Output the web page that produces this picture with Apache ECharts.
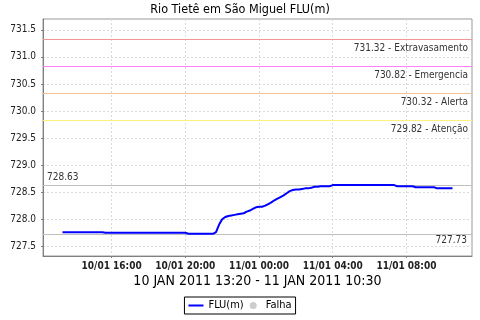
<!DOCTYPE html>
<html><head><meta charset="utf-8">
<script src="https://cdn.jsdelivr.net/npm/echarts@6/dist/echarts.min.js"></script>
<style>html,body{margin:0;padding:0;background:#fff}#c{width:480px;height:320px}</style>
</head><body><div id="c"></div>
<script>
const titleText = 'Rio Tietê em São Miguel FLU(m)';
const subtitleText = '10 JAN 2011 13:20 - 11 JAN 2011 10:30';
const seriesName = 'FLU(m)';
const failName = 'Falha';
const startTime = '2011-01-10T13:20:00Z';
const stepMinutes = 10;
const fluValues = [
  727.76,727.76,727.76,727.76,727.76,727.76,727.76,727.76,727.76,727.76,727.76,727.76,727.76,727.76,
  727.75,727.75,727.75,727.75,727.75,727.75,727.75,727.75,727.75,727.75,727.75,727.75,727.75,727.75,
  727.75,727.75,727.75,727.75,727.75,727.75,727.75,727.75,727.75,727.75,727.75,727.75,727.75,
  727.73,727.73,727.73,727.73,727.73,727.73,727.73,727.73,727.73,
  727.76,727.90,728.00,728.04,728.06,728.07,728.08,728.09,728.10,728.11,
  728.14,728.16,728.19,728.22,728.23,728.23,728.25,728.28,728.31,728.35,
  728.38,728.41,728.44,728.48,728.52,728.54,728.55,728.55,728.56,728.57,
  728.57,728.58,728.60,728.60,728.61,728.61,728.61,728.61,
  728.63,728.63,728.63,728.63,728.63,728.63,728.63,728.63,728.63,728.63,728.63,
  728.63,728.63,728.63,728.63,728.63,728.63,728.63,728.63,728.63,728.63,
  728.61,728.61,728.61,728.61,728.61,728.61,
  728.59,728.59,728.59,728.59,728.59,728.59,728.59,
  728.57,728.57,728.57,728.57,728.57,728.57
];
const xAxisMin = '2011-01-10T12:16:30Z';
const xAxisMax = '2011-01-11T11:33:30Z';
const xTickValues = ['2011-01-10T16:00:00Z','2011-01-10T20:00:00Z','2011-01-11T00:00:00Z','2011-01-11T04:00:00Z','2011-01-11T08:00:00Z'];
const yAxisMin = 727.32;
const yAxisMax = 731.70;
const yTickValues = [727.5,728.0,728.5,729.0,729.5,730.0,730.5,731.0,731.5];
const thresholdValues = [731.32, 730.82, 730.32, 729.82];
const thresholdNames = ['Extravasamento','Emergencia','Alerta','Atenção'];
const dataMaxValue = 728.63;
const dataMinValue = 727.73;

const FONT = "'DejaVu Sans Condensed', 'Liberation Sans', sans-serif";
const thresholdColors = ['#f09898', '#ff80ff', '#f5c294', '#fff07a'];
const t0 = Date.parse(startTime);
const seriesData = fluValues.map((v, i) => [t0 + i * stepMinutes * 60000, v]);
const xTicks = xTickValues.map(s => Date.parse(s));
const pad = n => (n < 10 ? '0' : '') + n;
const fmtTime = v => { const d = new Date(v); return pad(d.getUTCDate()) + '/' + pad(d.getUTCMonth() + 1) + ' ' + pad(d.getUTCHours()) + ':' + pad(d.getUTCMinutes()); };

const markData = thresholdValues.map((v, i) => ({
  yAxis: v,
  lineStyle: { color: thresholdColors[i], type: 'solid', width: 1, opacity: 1 },
  label: { show: true, position: 'insideEndBottom', formatter: v.toFixed(2) + ' - ' + thresholdNames[i], color: '#333', fontSize: 10, fontFamily: FONT, distance: [4, 4] }
}));
markData.push({
  yAxis: dataMaxValue,
  lineStyle: { color: '#c0c0c0', type: 'solid', width: 1, opacity: 1 },
  label: { show: true, position: 'insideStartTop', formatter: dataMaxValue.toFixed(2), color: '#333', fontSize: 10, fontFamily: FONT, distance: [4, 3] }
});
markData.push({
  yAxis: dataMinValue,
  lineStyle: { color: '#c0c0c0', type: 'solid', width: 1, opacity: 1 },
  label: { show: true, position: 'insideEndBottom', formatter: dataMinValue.toFixed(2), color: '#333', fontSize: 10, fontFamily: FONT, distance: [5, 2] }
});

const chart = echarts.init(document.getElementById('c'), null, { renderer: 'canvas' });
chart.setOption({
  animation: false,
  backgroundColor: '#fff',
  title: [
    { text: titleText, left: 'center', top: 3, padding: 0, textStyle: { fontSize: 12.5, fontWeight: 'normal', color: '#000', fontFamily: FONT } },
    { text: subtitleText, left: 257.5, textAlign: 'center', top: 274, padding: 0, textStyle: { fontSize: 14, fontWeight: 'normal', color: '#000', fontFamily: FONT } }
  ],
  grid: { left: 43, right: 8, top: 19, bottom: 64, show: true, borderColor: '#999', borderWidth: 1, backgroundColor: '#fff', outerBoundsMode: 'none', containLabel: false },
  legend: {
    left: 'center', top: 297, itemWidth: 15, itemHeight: 7, itemGap: 6, padding: [3, 4],
    borderColor: '#000', borderWidth: 1, borderRadius: 0, symbolKeepAspect: true,
    textStyle: { fontSize: 11, color: '#000', fontFamily: FONT },
    data: [{ name: seriesName, icon: 'path://M0,0H15V2H0Z' }, { name: failName, icon: 'circle' }]
  },
  xAxis: {
    type: 'value', min: Date.parse(xAxisMin), max: Date.parse(xAxisMax),
    axisLine: { show: true, lineStyle: { color: '#808080', width: 1 } },
    axisTick: { show: true, length: 2, inside: false, customValues: xTicks, lineStyle: { color: '#808080' } },
    axisLabel: { customValues: xTicks, formatter: fmtTime, fontSize: 10, fontWeight: 'bold', color: '#222', margin: 5, fontFamily: FONT, hideOverlap: false },
    splitLine: { show: true, lineStyle: { color: '#dadada', type: [2, 2], width: 1 } }
  },
  yAxis: {
    type: 'value', min: yAxisMin, max: yAxisMax,
    axisLine: { show: true, lineStyle: { color: '#808080', width: 1 } },
    axisTick: { show: true, length: 2, inside: false, customValues: yTickValues, lineStyle: { color: '#808080' } },
    axisLabel: { customValues: yTickValues, formatter: v => v.toFixed(1), fontSize: 10, color: '#222', margin: 7, fontFamily: FONT },
    splitLine: { show: true, lineStyle: { color: '#dadada', type: [2, 2], width: 1 } }
  },
  series: [
    {
      type: 'line', name: seriesName, data: seriesData, symbol: 'none', showSymbol: false,
      lineStyle: { color: '#0000ff', width: 2 }, itemStyle: { color: '#0000ff' }, z: 5,
      markLine: { symbol: 'none', silent: true, animation: false, data: markData, z: 3 }
    },
    { type: 'scatter', name: failName, data: [], itemStyle: { color: '#c0c0c0' } }
  ]
});
</script>
</body></html>
